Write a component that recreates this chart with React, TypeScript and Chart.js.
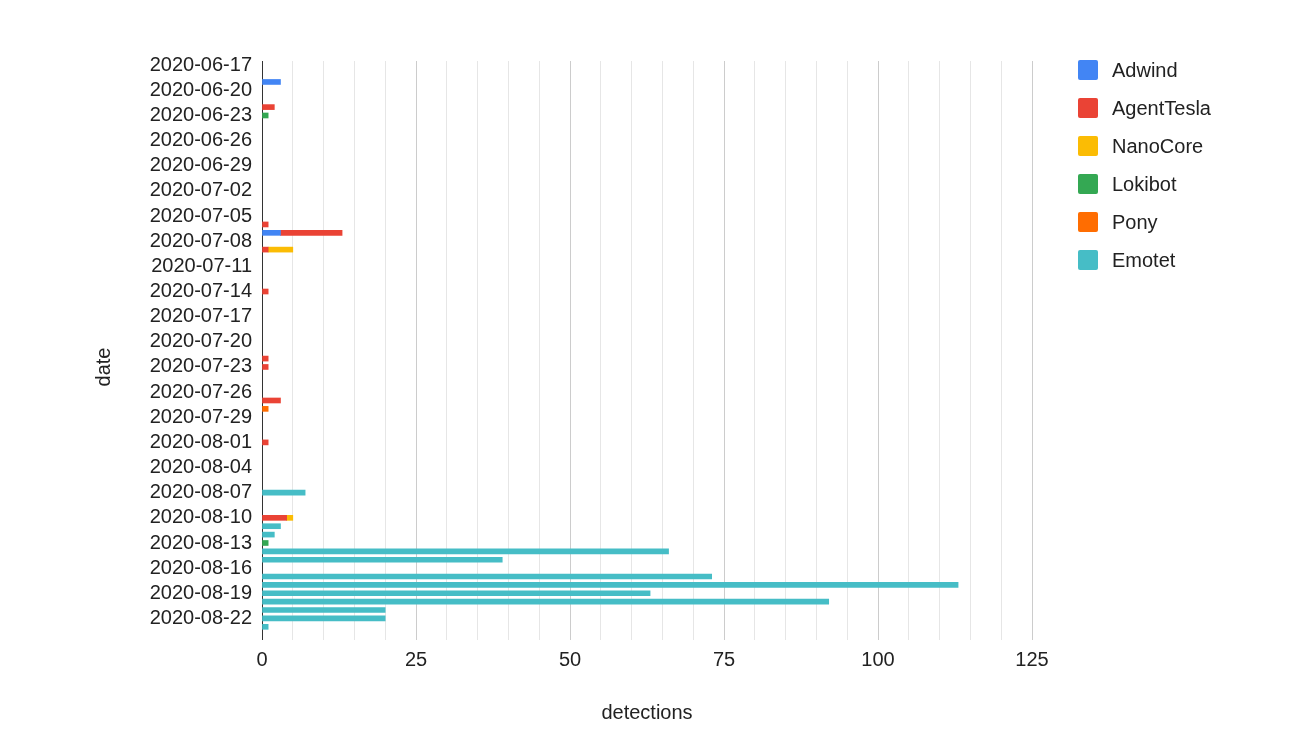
import React, { useEffect, useRef } from 'react';
import { Chart, registerables } from 'chart.js';

Chart.register(...registerables);

const dates = [
  '2020-06-17', '2020-06-18', '2020-06-19', '2020-06-20', '2020-06-21', '2020-06-22', '2020-06-23', '2020-06-24', '2020-06-25', '2020-06-26',
  '2020-06-27', '2020-06-28', '2020-06-29', '2020-06-30', '2020-07-01', '2020-07-02', '2020-07-03', '2020-07-04', '2020-07-05', '2020-07-06',
  '2020-07-07', '2020-07-08', '2020-07-09', '2020-07-10', '2020-07-11', '2020-07-12', '2020-07-13', '2020-07-14', '2020-07-15', '2020-07-16',
  '2020-07-17', '2020-07-18', '2020-07-19', '2020-07-20', '2020-07-21', '2020-07-22', '2020-07-23', '2020-07-24', '2020-07-25', '2020-07-26',
  '2020-07-27', '2020-07-28', '2020-07-29', '2020-07-30', '2020-07-31', '2020-08-01', '2020-08-02', '2020-08-03', '2020-08-04', '2020-08-05',
  '2020-08-06', '2020-08-07', '2020-08-08', '2020-08-09', '2020-08-10', '2020-08-11', '2020-08-12', '2020-08-13', '2020-08-14', '2020-08-15',
  '2020-08-16', '2020-08-17', '2020-08-18', '2020-08-19', '2020-08-20', '2020-08-21', '2020-08-22', '2020-08-23',
];

const seriesNames = ['Adwind', 'AgentTesla', 'NanoCore', 'Lokibot', 'Pony', 'Emotet'];
const seriesColors = ['#4285F4', '#EA4335', '#FBBC04', '#34A853', '#FF6D01', '#46BDC6'];

const adwind = [
  0, 0, 3, 0, 0, 0, 0, 0, 0, 0,
  0, 0, 0, 0, 0, 0, 0, 0, 0, 0,
  3, 0, 0, 0, 0, 0, 0, 0, 0, 0,
  0, 0, 0, 0, 0, 0, 0, 0, 0, 0,
  0, 0, 0, 0, 0, 0, 0, 0, 0, 0,
  0, 0, 0, 0, 0, 0, 0, 0, 0, 0,
  0, 0, 0, 0, 0, 0, 0, 0,
];
const agentTesla = [
  0, 0, 0, 0, 0, 2, 0, 0, 0, 0,
  0, 0, 0, 0, 0, 0, 0, 0, 0, 1,
  10, 0, 1, 0, 0, 0, 0, 1, 0, 0,
  0, 0, 0, 0, 0, 1, 1, 0, 0, 0,
  3, 0, 0, 0, 0, 1, 0, 0, 0, 0,
  0, 0, 0, 0, 4, 0, 0, 0, 0, 0,
  0, 0, 0, 0, 0, 0, 0, 0,
];
const nanoCore = [
  0, 0, 0, 0, 0, 0, 0, 0, 0, 0,
  0, 0, 0, 0, 0, 0, 0, 0, 0, 0,
  0, 0, 4, 0, 0, 0, 0, 0, 0, 0,
  0, 0, 0, 0, 0, 0, 0, 0, 0, 0,
  0, 0, 0, 0, 0, 0, 0, 0, 0, 0,
  0, 0, 0, 0, 1, 0, 0, 0, 0, 0,
  0, 0, 0, 0, 0, 0, 0, 0,
];
const lokibot = [
  0, 0, 0, 0, 0, 0, 1, 0, 0, 0,
  0, 0, 0, 0, 0, 0, 0, 0, 0, 0,
  0, 0, 0, 0, 0, 0, 0, 0, 0, 0,
  0, 0, 0, 0, 0, 0, 0, 0, 0, 0,
  0, 0, 0, 0, 0, 0, 0, 0, 0, 0,
  0, 0, 0, 0, 0, 0, 0, 1, 0, 0,
  0, 0, 0, 0, 0, 0, 0, 0,
];
const pony = [
  0, 0, 0, 0, 0, 0, 0, 0, 0, 0,
  0, 0, 0, 0, 0, 0, 0, 0, 0, 0,
  0, 0, 0, 0, 0, 0, 0, 0, 0, 0,
  0, 0, 0, 0, 0, 0, 0, 0, 0, 0,
  0, 1, 0, 0, 0, 0, 0, 0, 0, 0,
  0, 0, 0, 0, 0, 0, 0, 0, 0, 0,
  0, 0, 0, 0, 0, 0, 0, 0,
];
const emotet = [
  0, 0, 0, 0, 0, 0, 0, 0, 0, 0,
  0, 0, 0, 0, 0, 0, 0, 0, 0, 0,
  0, 0, 0, 0, 0, 0, 0, 0, 0, 0,
  0, 0, 0, 0, 0, 0, 0, 0, 0, 0,
  0, 0, 0, 0, 0, 0, 0, 0, 0, 0,
  0, 7, 0, 0, 0, 3, 2, 0, 66, 39,
  0, 73, 113, 63, 92, 20, 20, 1,
];

const seriesValues = [adwind, agentTesla, nanoCore, lokibot, pony, emotet];

const xMin = 0;
const xMax = 125;
const xMinorStep = 5;
const xMajorStep = 25;
const dateLabelEvery = 3;
const xTitle = 'detections';
const yTitle = 'date';

const FONT_FAMILY = '"Liberation Sans", Arial, Helvetica, sans-serif';
const TEXT = '#222222';

export default function App() {
  const ref = useRef<HTMLCanvasElement | null>(null);

  useEffect(() => {
    if (!ref.current) return;
    const yTitlePlugin = {
      id: 'yTitleDraw',
      afterDraw(chart: any) {
        const { ctx, chartArea } = chart;
        ctx.save();
        ctx.translate(104, (chartArea.top + chartArea.bottom) / 2 + 21);
        ctx.rotate(-Math.PI / 2);
        ctx.font = `20px ${FONT_FAMILY}`;
        ctx.fillStyle = TEXT;
        ctx.textAlign = 'center';
        ctx.textBaseline = 'middle';
        ctx.fillText(yTitle, 0, 0);
        ctx.restore();
      },
    };

    const gridColor = (c: any) =>
      c.tick && c.tick.value === 0 ? '#333333' : c.tick && c.tick.value % xMajorStep === 0 ? '#cccccc' : '#e6e6e6';

    const chart = new Chart(ref.current, {
      type: 'bar',
      data: {
        labels: dates,
        datasets: seriesNames.map((name, i) => ({
          label: name,
          data: seriesValues[i].map((v) => (v === 0 ? null : v)),
          backgroundColor: seriesColors[i],
          borderWidth: 0,
          barThickness: 5,
        })),
      },
      options: {
        indexAxis: 'y',
        responsive: false,
        animation: false,
        layout: { padding: { top: 61, right: 270, bottom: 0, left: 0 } },
        plugins: {
          legend: { display: false },
          tooltip: { enabled: false },
        },
        scales: {
          x: {
            stacked: true,
            min: xMin,
            max: xMax,
            position: 'bottom',
            ticks: {
              stepSize: xMinorStep,
              autoSkip: false,
              maxRotation: 0,
              padding: 8,
              color: TEXT,
              font: { family: FONT_FAMILY, size: 20 },
              callback: (v: any) => (Number(v) % xMajorStep === 0 ? String(v) : ''),
            },
            grid: {
              color: gridColor,
              tickColor: gridColor,
              tickLength: 9,
              drawTicks: true,
            },
            border: { display: false },
            title: {
              display: true,
              text: xTitle,
              color: TEXT,
              font: { family: FONT_FAMILY, size: 20 },
              padding: { top: 0, bottom: 25 },
            },
            afterFit: (s: any) => {
              s.height = 119;
            },
          },
          y: {
            stacked: true,
            ticks: {
              autoSkip: false,
              padding: 10,
              color: TEXT,
              font: { family: FONT_FAMILY, size: 20 },
              callback: function (this: any, v: any, i: number) {
                return i % dateLabelEvery === 0 ? this.getLabelForValue(v) : '';
              },
            },
            grid: { display: false, drawTicks: false },
            border: { display: true, color: '#333333', width: 1 },
            afterFit: (s: any) => {
              s.width = 262;
            },
          },
        },
      },
      plugins: [yTitlePlugin],
    } as any);

    return () => chart.destroy();
  }, []);

  return (
    <div style={{ position: 'fixed', left: 0, top: 0, width: 1302, height: 750, background: '#ffffff' }}>
      <canvas ref={ref} width={1302} height={750} style={{ width: 1302, height: 750, display: 'block' }} />
      <div style={{ position: 'absolute', left: 1078, top: 60, fontFamily: FONT_FAMILY, fontSize: 20, color: TEXT }}>
        {seriesNames.map((name, i) => (
          <div key={name} style={{ display: 'flex', alignItems: 'center', height: 20, marginBottom: 18 }}>
            <span
              style={{
                display: 'inline-block',
                width: 20,
                height: 20,
                borderRadius: 2,
                background: seriesColors[i],
                marginRight: 14,
              }}
            />
            <span style={{ lineHeight: '20px' }}>{name}</span>
          </div>
        ))}
      </div>
    </div>
  );
}
